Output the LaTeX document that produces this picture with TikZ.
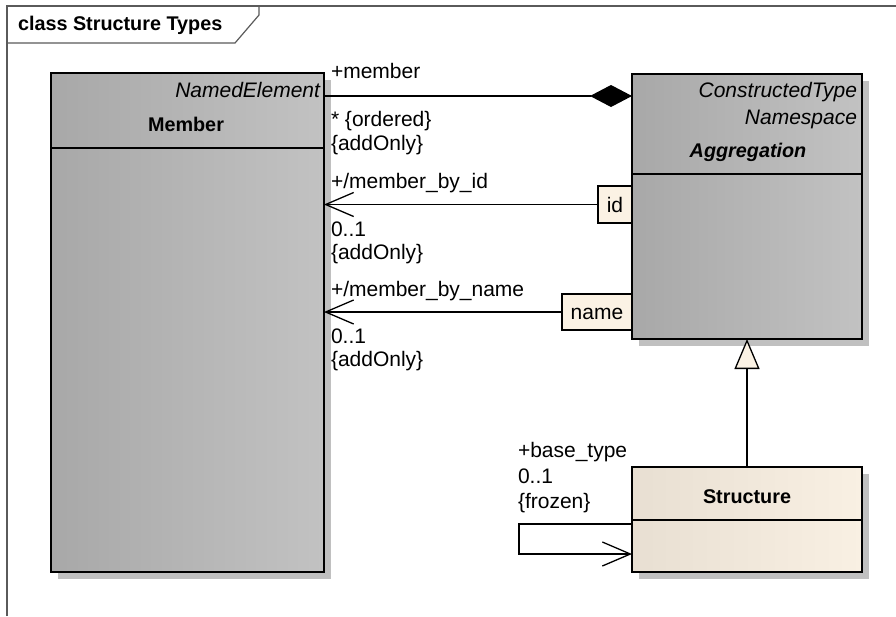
\documentclass[tikz,border=0pt]{standalone}
\usepackage{fontspec}
\setmainfont{Liberation Sans}
\usetikzlibrary{arrows.meta}
\definecolor{grayL}{HTML}{A8A8A8}
\definecolor{grayR}{HTML}{C2C2C2}
\definecolor{shadowc}{HTML}{C0C0C0}
\definecolor{creamL}{HTML}{E8DFD2}
\definecolor{creamR}{HTML}{F9F0E3}
\definecolor{qualc}{HTML}{FBF2E4}
\definecolor{framec}{HTML}{5A5A5A}
\newcommand{\regfont}{\fontsize{21}{24}\selectfont}
\newcommand{\boldfont}{\fontsize{19.8}{23}\selectfont\bfseries}
\begin{document}
\begin{tikzpicture}[x=1pt,y=-1pt,
  every node/.style={font=\regfont, inner sep=0pt, outer sep=0pt},
  lbl/.style={anchor=base west},
  graybox/.style={draw=black, line width=1.8pt, left color=grayL, right color=grayR, rectangle},
  creambox/.style={draw=black, line width=1.8pt, left color=creamL, right color=creamR, rectangle},
  qualbox/.style={draw=black, line width=1.3pt, fill=qualc, rectangle},
  conn/.style={line width=1.3pt, draw=black},
  compos/.style={conn, -{Diamond[length=42pt,width=22pt,fill=black]}},
  navarrow/.style={conn, -{Straight Barb[length=28pt,width=24pt,line width=1.3pt]}},
  genarrow/.style={conn, -{Triangle[length=30pt,width=25pt,fill=qualc,line width=1.3pt]}},
  divider/.style={line width=1.5pt, draw=black},
]
\useasboundingbox (0,0) rectangle (896,616);
\fill[white] (0,0) rectangle (896,616);

% frame
\draw[framec, line width=1.5pt] (7,616) -- (7,6) -- (896,6);
\draw[framec, line width=1.2pt] (7,43) -- (235,43) -- (259,15) -- (259,6);
\node[anchor=base west, font=\boldfont] (title) at (18,30) {class Structure Types};

% shadows
\fill[shadowc] (58,80) rectangle (331,579);
\fill[shadowc] (639,81) rectangle (869,346);
\fill[shadowc] (639,474) rectangle (869,579);

% classes
\node[graybox, minimum width=273pt, minimum height=499pt] (member) at (187.5,322.5) {};
\node[graybox, minimum width=230pt, minimum height=265pt] (agg) at (747,206.5) {};
\node[creambox, minimum width=230pt, minimum height=105pt] (struct) at (747,519.5) {};

\draw[divider] ([yshift=-75pt]member.north west) -- ([yshift=-75pt]member.north east);
\draw[divider] ([yshift=-100pt]agg.north west) -- ([yshift=-100pt]agg.north east);
\draw[divider] ([yshift=-53pt]struct.north west) -- ([yshift=-53pt]struct.north east);

\node[anchor=base east, font=\regfont\itshape] (ne) at (320,97) {NamedElement};
\node[anchor=base, font=\boldfont] (membername) at (186,131) {Member};
\node[anchor=base east, font=\regfont\itshape] (ct) at (857,97) {ConstructedType};
\node[anchor=base east, font=\regfont\itshape] (ns) at (857,124) {Namespace};
\node[anchor=base, font=\boldfont\itshape] (aggname) at (748,157) {Aggregation};
\node[anchor=base, font=\boldfont] (structname) at (747,503) {Structure};

% qualifiers
\node[qualbox, minimum width=34pt, minimum height=37pt] (qid) at (615,204.5) {};
\node[anchor=base] (qidt) at (615,212) {id};
\node[qualbox, minimum width=70pt, minimum height=36pt] (qname) at (597,312) {};
\node[anchor=base] (qnamet) at (597,319) {name};

% connectors
\draw[compos] ([yshift=-23pt]member.north east) -- ([yshift=-23pt]member.north east -| agg.west);
\draw[navarrow] (qid.west) -- (qid.west -| member.east);
\draw[navarrow] (qname.west) -- (qname.west -| member.east);
\draw[genarrow] (struct.north) -- (agg.south);
\coordinate (selfA) at ([yshift=-4.5pt]struct.west);
\coordinate (selfB) at ([yshift=-34.5pt]struct.west);
\draw[navarrow] (selfA) -- ++(-113,0) -- ++(0,30) -- (selfB);

% labels
\node[lbl] (l1) at (331,78) {+member};
\node[lbl] (l2) at (331,126) {* \{ordered\}};
\node[lbl] (l3) at (331,150) {\{addOnly\}};
\node[lbl] (l4) at (331,188) {+/member\_by\_id};
\node[lbl] (l5) at (331,236) {0..1};
\node[lbl] (l6) at (331,259) {\{addOnly\}};
\node[lbl] (l7) at (331,296) {+/member\_by\_name};
\node[lbl] (l8) at (331,343) {0..1};
\node[lbl] (l9) at (331,366) {\{addOnly\}};
\node[lbl] (l10) at (518,457) {+base\_type};
\node[lbl] (l11) at (518,483) {0..1};
\node[lbl] (l12) at (518,508) {\{frozen\}};
\end{tikzpicture}
\end{document}
